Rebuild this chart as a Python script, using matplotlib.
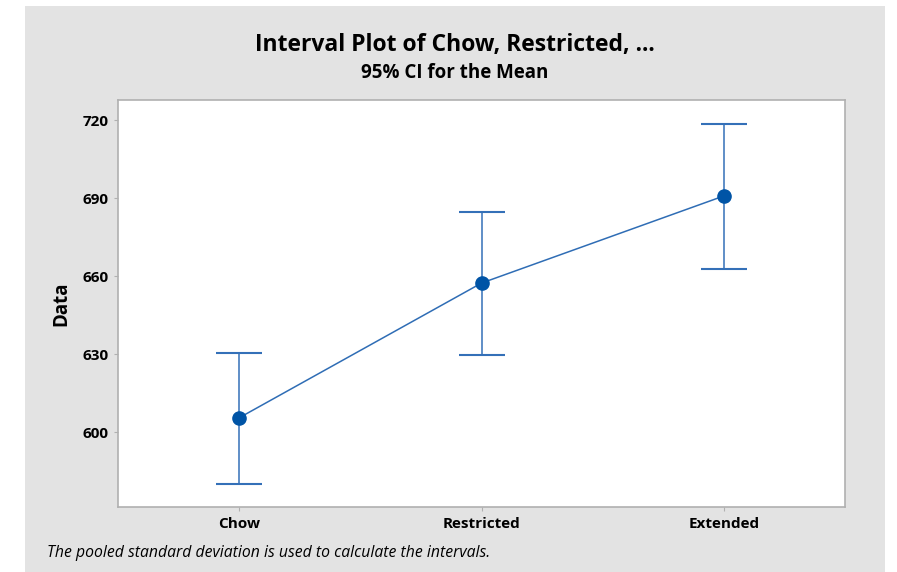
import matplotlib.pyplot as plt
from matplotlib.patches import Rectangle

groups = ["Chow", "Restricted", "Extended"]
means = [605.5, 657.3, 690.8]
ci_low = [580.2, 629.8, 662.7]
ci_high = [630.3, 684.8, 718.6]
yticks = [600, 630, 660, 690, 720]

plt.rcParams['font.family'] = ['Open Sans', 'DejaVu Sans']

fig = plt.figure(figsize=(8.97, 5.72), dpi=100)
fig.patch.set_facecolor('white')
# gray panel behind the chart
fig.patches.append(Rectangle((25 / 897, 0), (885 - 25) / 897, 1 - 6 / 572,
                             transform=fig.transFigure, facecolor='#e3e3e3',
                             edgecolor='none', zorder=-1))

ax = fig.add_axes([118 / 897, 1 - 507 / 572, (845 - 118) / 897, (507 - 100) / 572])
ax.set_zorder(2)
ax.set_facecolor('white')

x = list(range(len(groups)))
err = [[m - lo for m, lo in zip(means, ci_low)], [hi - m for m, hi in zip(means, ci_high)]]
ax.errorbar(x, means, yerr=err, fmt='none', ecolor='#3470b8', elinewidth=1.1,
            capsize=16.5, capthick=1.5, zorder=2)
ax.plot(x, means, color='#2f6db5', lw=1.1, zorder=3)
ax.plot(x, means, 'o', color='#0054a6', ms=9.5, zorder=4)

ax.set_xlim(-0.5, 2.5)
ax.set_ylim(571.2, 727.7)
ax.set_xticks(x)
ax.set_xticklabels(groups, fontsize=11, fontweight='bold')
ax.set_yticks(yticks)
ax.set_yticklabels([str(v) for v in yticks], fontsize=11, fontweight='bold')
ax.set_ylabel('Data', fontsize=13.5, fontweight='bold', labelpad=8)
ax.tick_params(length=3, color='#b0b0b0', pad=4)
for s in ax.spines.values():
    s.set_color('#b0b0b0')
    s.set_linewidth(1.2)

fig.text(455 / 897, 1 - 45 / 572, 'Interval Plot of Chow, Restricted, ...',
         ha='center', va='center', fontsize=16.5, fontweight='bold')
fig.text(455 / 897, 1 - 73 / 572, '95% CI for the Mean',
         ha='center', va='center', fontsize=13.5, fontweight='bold')
fig.text(47 / 897, 1 - 553 / 572, 'The pooled standard deviation is used to calculate the intervals.',
         ha='left', va='center', fontsize=11.3, style='italic')

fig.savefig('out.png', dpi=100)
